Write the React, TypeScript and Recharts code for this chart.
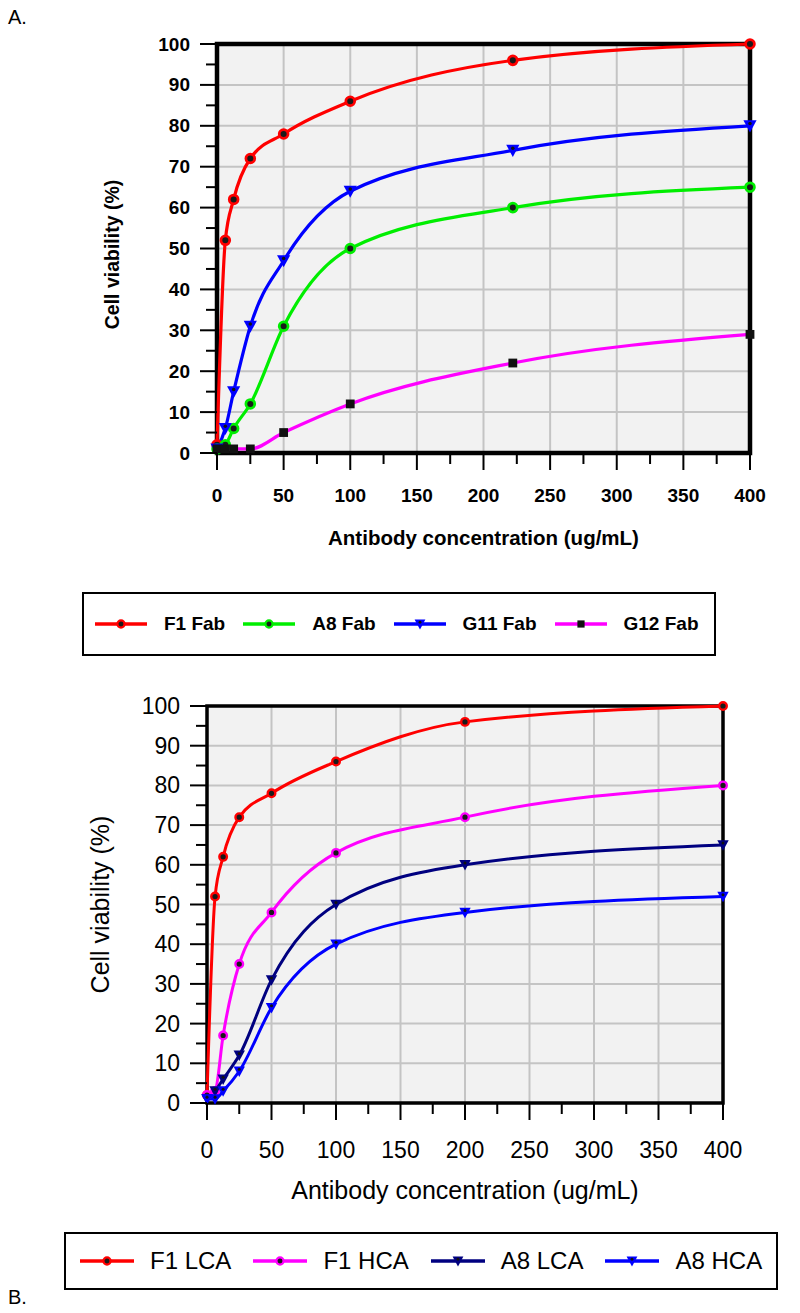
import React from 'react';
import { LineChart, Line, XAxis, YAxis, CartesianGrid, ReferenceArea, Legend, Label } from 'recharts';

// panel A: antibody fragments
const concA = [0, 6.25, 12.5, 25, 50, 100, 222, 400];
const f1Fab = [2, 52, 62, 72, 78, 86, 96, 100];
const a8Fab = [1, 2, 6, 12, 31, 50, 60, 65];
const g11Fab = [1, 6, 15, 31, 47, 64, 74, 80];
const g12Fab = [1, 1, 1, 1, 5, 12, 22, 29];

// panel B: light / heavy chain
const concB = [0, 6.25, 12.5, 25, 50, 100, 200, 400];
const f1Lca = [2, 52, 62, 72, 78, 86, 96, 100];
const f1Hca = [2, 3, 17, 35, 48, 63, 72, 80];
const a8Lca = [1, 3, 6, 12, 31, 50, 60, 65];
const a8Hca = [1, 1, 3, 8, 24, 40, 48, 52];

const xTicks = [0, 25, 50, 75, 100, 125, 150, 175, 200, 225, 250, 275, 300, 325, 350, 375, 400];
const yTicks = [0, 5, 10, 15, 20, 25, 30, 35, 40, 45, 50, 55, 60, 65, 70, 75, 80, 85, 90, 95, 100];
const xGrid = [0, 50, 100, 150, 200, 250, 300, 350, 400];
const yGrid = [0, 10, 20, 30, 40, 50, 60, 70, 80, 90, 100];

const FONT = "'Liberation Sans', Arial, sans-serif";

const rowsA = concA.map((x, i) => ({ x, f1: f1Fab[i], a8: a8Fab[i], g11: g11Fab[i], g12: g12Fab[i] }));
const rowsB = concB.map((x, i) => ({ x, f1l: f1Lca[i], f1h: f1Hca[i], a8l: a8Lca[i], a8h: a8Hca[i] }));

type Shape = 'circle' | 'tri' | 'square';
type Series = { key: string; name: string; color: string; shape: Shape };

const seriesA: Series[] = [
  { key: 'f1', name: 'F1 Fab', color: '#ff0000', shape: 'circle' },
  { key: 'a8', name: 'A8 Fab', color: '#00ee00', shape: 'circle' },
  { key: 'g11', name: 'G11 Fab', color: '#0000ff', shape: 'tri' },
  { key: 'g12', name: 'G12 Fab', color: '#ff00ff', shape: 'square' },
];

const seriesB: Series[] = [
  { key: 'f1l', name: 'F1 LCA', color: '#ff0000', shape: 'circle' },
  { key: 'f1h', name: 'F1 HCA', color: '#ff00ff', shape: 'circle' },
  { key: 'a8l', name: 'A8 LCA', color: '#000080', shape: 'tri' },
  { key: 'a8h', name: 'A8 HCA', color: '#0000ff', shape: 'tri' },
];

const Marker = ({ cx, cy, color, shape, s = 1 }: { cx: number; cy: number; color: string; shape: Shape; s?: number }) => {
  if (cx == null || cy == null) return null;
  if (shape === 'square') {
    return <rect x={cx - 4 * s} y={cy - 4 * s} width={8 * s} height={8 * s} fill="#111" />;
  }
  if (shape === 'tri') {
    return (
      <g>
        <polygon
          points={`${cx - 6 * s},${cy - 5 * s} ${cx + 6 * s},${cy - 5 * s} ${cx},${cy + 6 * s}`}
          fill={color}
        />
        <circle cx={cx} cy={cy - 2 * s} r={1.6 * s} fill="#111" />
      </g>
    );
  }
  return <circle cx={cx} cy={cy} r={4 * s} fill="#1a1a1a" stroke={color} strokeWidth={2.5 * s} />;
};

const makeXTick = (len: number, minorLen: number, labelDy: number, fontSize: number, bold: boolean) => (p: any) => {
  const v = p.payload.value;
  const major = v % 50 === 0;
  return (
    <g>
      <line x1={p.x} x2={p.x} y1={p.y} y2={p.y + (major ? len : minorLen)} stroke="#000" strokeWidth={2} />
      {major && (
        <text x={p.x} y={p.y + labelDy} textAnchor="middle" dominantBaseline="central"
          fontFamily={FONT} fontSize={fontSize} fontWeight={bold ? 700 : 400} fill="#000">
          {v}
        </text>
      )}
    </g>
  );
};

const makeYTick = (len: number, minorLen: number, labelDx: number, fontSize: number, bold: boolean) => (p: any) => {
  const v = p.payload.value;
  const major = v % 10 === 0;
  return (
    <g>
      <line x1={p.x - (major ? len : minorLen)} x2={p.x} y1={p.y} y2={p.y} stroke="#000" strokeWidth={2} />
      {major && (
        <text x={p.x - labelDx} y={p.y} textAnchor="end" dominantBaseline="central"
          fontFamily={FONT} fontSize={fontSize} fontWeight={bold ? 700 : 400} fill="#000">
          {v}
        </text>
      )}
    </g>
  );
};

type LegendOpts = { fontSize: number; bold: boolean; height: number; s: number; gap: number; pad: number; lineW: number; textGap: number };

const makeLegend = (series: Series[], o: LegendOpts) =>
  (props: any) => {
    const payload = props.payload || [];
    // keep the plotting order, not the alphabetical one
    const items = series.map((cfg) => ({ cfg, entry: payload.find((e: any) => e.value === cfg.name) }))
      .filter((d) => d.entry);
    return (
      <div style={{
        boxSizing: 'border-box', height: o.height, border: '2px solid #000', background: '#fff',
        display: 'flex', alignItems: 'center', paddingLeft: o.pad, fontFamily: FONT,
      }}>
        {items.map(({ cfg, entry }) => (
          <div key={entry.value} style={{ display: 'flex', alignItems: 'center', marginRight: o.gap }}>
            <svg width={o.lineW} height={16}>
              <line x1={1} x2={o.lineW - 1} y1={8} y2={8} stroke={entry.color || cfg.color} strokeWidth={3.5} />
              <Marker cx={o.lineW / 2} cy={8} color={cfg.color} shape={cfg.shape} s={o.s} />
            </svg>
            <span style={{ marginLeft: o.textGap, fontSize: o.fontSize, fontWeight: o.bold ? 700 : 400, color: '#000', whiteSpace: 'nowrap' }}>
              {entry.value}
            </span>
          </div>
        ))}
      </div>
    );
  };

const ChartA = () => (
  <LineChart width={800} height={680} data={rowsA} margin={{ top: 44, right: 50, left: 0, bottom: 132 }}>
    <CartesianGrid fill="#f2f2f2" stroke="#c4c4c4" strokeWidth={2} verticalValues={xGrid} horizontalValues={yGrid} />
    <ReferenceArea x1={0} x2={400} y1={0} y2={100} fill="none" stroke="#000" strokeWidth={4.5} />
    <XAxis dataKey="x" type="number" domain={[0, 400]} ticks={xTicks} interval={0} height={95}
      axisLine={false} tickLine={false} tickSize={0} tickMargin={0}
      tick={makeXTick(17, 11, 42, 19, true)}>
      <Label content={(p: any) => {
        const vb = p.viewBox || { x: 217, y: 453, width: 533 };
        return (
          <text x={vb.x + vb.width / 2} y={vb.y + 84} textAnchor="middle" dominantBaseline="central"
            fontFamily={FONT} fontSize={20.5} fontWeight={700}>Antibody concentration (ug/mL)</text>
        );
      }} />
    </XAxis>
    <YAxis type="number" domain={[0, 100]} ticks={yTicks} interval={0} width={217}
      axisLine={false} tickLine={false} tickSize={0} tickMargin={0}
      tick={makeYTick(17, 11, 27, 19, true)}>
      <Label content={(p: any) => {
        const vb = p.viewBox || { y: 44, height: 409 };
        const cy = vb.y + vb.height / 2 + 6;
        return (
          <text x={112} y={cy} transform={`rotate(-90 112 ${cy})`} textAnchor="middle" dominantBaseline="central"
            fontFamily={FONT} fontSize={19.5} fontWeight={700}>Cell viability (%)</text>
        );
      }} />
    </YAxis>
    <Legend layout="horizontal" verticalAlign="middle" align="center"
      wrapperStyle={{ left: 82, top: 592, width: 634 }}
      content={makeLegend(seriesA, { fontSize: 19, bold: true, height: 64, s: 0.9, gap: 17, pad: 10, lineW: 54, textGap: 16 })} />
    {seriesA.map((s) => (
      <Line key={s.key} dataKey={s.key} name={s.name} type="monotone" stroke={s.color} strokeWidth={3.2}
        isAnimationActive={false} activeDot={false}
        dot={(p: any) => <Marker key={`${s.key}-${p.index}`} cx={p.cx} cy={p.cy} color={s.color} shape={s.shape} s={1.1} />} />
    ))}
  </LineChart>
);

const ChartB = () => (
  <LineChart width={800} height={693} data={rowsB} margin={{ top: 86, right: 77, left: 0, bottom: 110 }}>
    <CartesianGrid fill="#f2f2f2" stroke="#c4c4c4" strokeWidth={2} verticalValues={xGrid} horizontalValues={yGrid} />
    <ReferenceArea x1={0} x2={400} y1={0} y2={100} fill="none" stroke="#000" strokeWidth={3.5} />
    <XAxis dataKey="x" type="number" domain={[0, 400]} ticks={xTicks} interval={0} height={100}
      axisLine={false} tickLine={false} tickSize={0} tickMargin={0}
      tick={makeXTick(17, 11, 47, 23, false)}>
      <Label content={(p: any) => {
        const vb = p.viewBox || { x: 207, y: 1103, width: 516 };
        return (
          <text x={vb.x + vb.width / 2} y={vb.y + 87} textAnchor="middle" dominantBaseline="central"
            fontFamily={FONT} fontSize={25} fontWeight={400}>Antibody concentration (ug/mL)</text>
        );
      }} />
    </XAxis>
    <YAxis type="number" domain={[0, 100]} ticks={yTicks} interval={0} width={207}
      axisLine={false} tickLine={false} tickSize={0} tickMargin={0}
      tick={makeYTick(17, 11, 27, 23, false)}>
      <Label content={(p: any) => {
        const vb = p.viewBox || { y: 86, height: 397 };
        const cy = vb.y + vb.height / 2;
        return (
          <text x={100} y={cy} transform={`rotate(-90 100 ${cy})`} textAnchor="middle" dominantBaseline="central"
            fontFamily={FONT} fontSize={25} fontWeight={400}>Cell viability (%)</text>
        );
      }} />
    </YAxis>
    <Legend layout="horizontal" verticalAlign="middle" align="center"
      wrapperStyle={{ left: 64, top: 612, width: 714 }}
      content={makeLegend(seriesB, { fontSize: 24, bold: false, height: 58, s: 0.9, gap: 21, pad: 13, lineW: 56, textGap: 15 })} />
    {seriesB.map((s) => (
      <Line key={s.key} dataKey={s.key} name={s.name} type="monotone" stroke={s.color} strokeWidth={3}
        isAnimationActive={false} activeDot={false}
        dot={(p: any) => <Marker key={`${s.key}-${p.index}`} cx={p.cx} cy={p.cy} color={s.color} shape={s.shape} s={0.95} />} />
    ))}
  </LineChart>
);

export default function App() {
  return (
    <div style={{ position: 'absolute', left: 0, top: 0, width: 800, height: 1313, background: '#fff', fontFamily: FONT }}>
      <div style={{ position: 'absolute', left: 8, top: 6, fontSize: 20 }}>A.</div>
      <div style={{ position: 'absolute', left: 0, top: 0 }}>
        <ChartA />
      </div>
      <div style={{ position: 'absolute', left: 0, top: 620 }}>
        <ChartB />
      </div>
      <div style={{ position: 'absolute', left: 8, top: 1286, fontSize: 20 }}>B.</div>
    </div>
  );
}
